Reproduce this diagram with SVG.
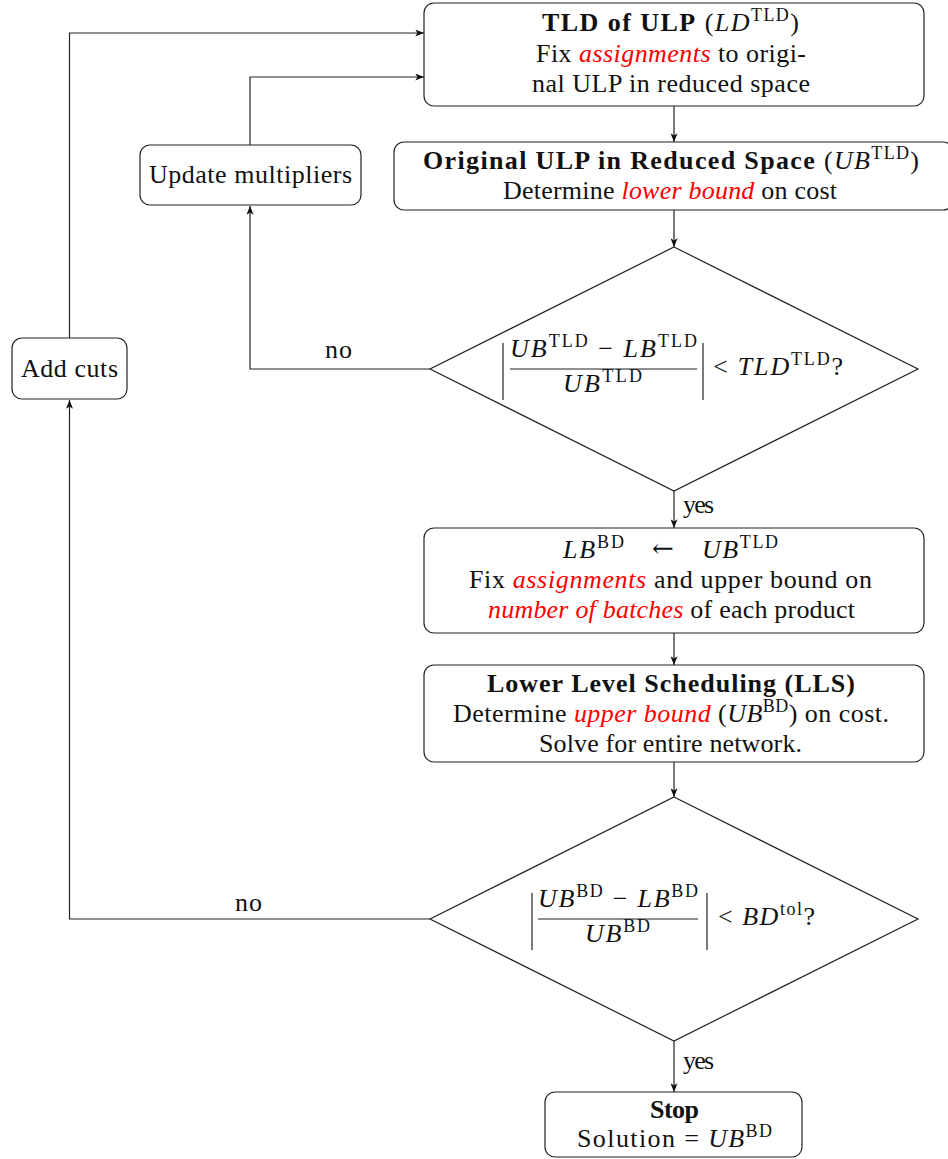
<svg xmlns="http://www.w3.org/2000/svg" width="948" height="1159" viewBox="0 0 948 1159">
  <defs>
    <marker id="arr" viewBox="0 0 10 8" refX="10" refY="4" markerWidth="9" markerHeight="7" markerUnits="userSpaceOnUse" orient="auto">
      <path d="M0,0 L10,4 L0,8 L2.5,4 Z" fill="#111"/>
    </marker>
    <style>
      .box{fill:#fff;stroke:#222;stroke-width:1.2}
      .t{font-family:"Liberation Serif","Times New Roman","DejaVu Serif",serif;font-size:26px;fill:#111}
      .b{font-weight:bold}
      .r{fill:#ff0000;font-style:italic}
      .i{font-style:italic}
      .sup{font-size:18px}
      .sym{font-family:"DejaVu Serif",serif}
      .edge{fill:none;stroke:#222;stroke-width:1.2;marker-end:url(#arr)}
      .rule{stroke:#222;stroke-width:1.2}
    </style>
  </defs>

  <!-- connectors -->
  <g id="connectors">
    <path class="edge" d="M674,106 V142"/>
    <path class="edge" d="M674,210 V247"/>
    <path class="edge" d="M674,491 V528"/>
    <path class="edge" d="M674,633 V665"/>
    <path class="edge" d="M674,762 V797"/>
    <path class="edge" d="M674,1041 V1092"/>
    <path class="edge" d="M430,369 H250 V206"/>
    <path class="edge" d="M430,919 H69.5 V400"/>
    <path class="edge" d="M250,145 V77 H424"/>
    <path class="edge" d="M69.5,338 V33 H424"/>
    <text class="t" x="325" y="358" textLength="27">no</text>
    <text class="t" x="235" y="911" textLength="27">no</text>
    <text class="t" x="683" y="513" textLength="31">yes</text>
    <text class="t" x="683" y="1069" textLength="31">yes</text>
  </g>

  <!-- TLD of ULP -->
  <g id="tld">
    <rect class="box" x="424" y="3" width="500" height="103" rx="10"/>
    <text class="t" x="542" y="31" textLength="257"><tspan class="b">TLD of ULP</tspan> (<tspan class="i">LD</tspan><tspan class="sup" dy="-10">TLD</tspan><tspan dy="10">)</tspan></text>
    <text class="t" x="536" y="62" textLength="270">Fix <tspan class="r">assignments</tspan> to origi-</text>
    <text class="t" x="532" y="92" textLength="278">nal ULP in reduced space</text>
  </g>

  <!-- Original ULP in reduced space -->
  <g id="ulp">
    <rect class="box" x="394" y="142" width="559" height="68" rx="10"/>
    <text class="t" x="423" y="169" textLength="496"><tspan class="b">Original ULP in Reduced Space</tspan> (<tspan class="i">UB</tspan><tspan class="sup" dy="-10">TLD</tspan><tspan dy="10">)</tspan></text>
    <text class="t" x="503" y="199" textLength="334">Determine <tspan class="r">lower bound</tspan> on cost</text>
  </g>

  <!-- Update multipliers -->
  <g id="update">
    <rect class="box" x="140" y="145" width="221" height="60" rx="10"/>
    <text class="t" x="149" y="183" textLength="203">Update multipliers</text>
  </g>

  <!-- Add cuts -->
  <g id="cuts">
    <rect class="box" x="12" y="338" width="115" height="61" rx="10"/>
    <text class="t" x="21" y="377" textLength="97">Add cuts</text>
  </g>

  <!-- TLD convergence test -->
  <g id="test-tld">
    <polygon class="box" points="674,247 918,369 674,491 430,369"/>
    <line class="rule" x1="503" y1="343" x2="503" y2="400"/>
    <line class="rule" x1="703" y1="343" x2="703" y2="400"/>
    <text class="t" x="510" y="357" textLength="187"><tspan class="i">UB</tspan><tspan class="sup" dy="-10">TLD</tspan><tspan dy="10"> − </tspan><tspan class="i">LB</tspan><tspan class="sup" dy="-10">TLD</tspan></text>
    <line class="rule" x1="510" y1="369" x2="697" y2="369"/>
    <text class="t" x="563" y="392" textLength="79"><tspan class="i">UB</tspan><tspan class="sup" dy="-10">TLD</tspan></text>
    <text class="t" x="713" y="375" textLength="130">&lt; <tspan class="i">TLD</tspan><tspan class="sup" dy="-10">TLD</tspan><tspan dy="10">?</tspan></text>
  </g>

  <!-- bound hand-off -->
  <g id="handoff">
    <rect class="box" x="424" y="528" width="500" height="105" rx="10"/>
    <text class="t" x="563" y="558" textLength="61"><tspan class="i">LB</tspan><tspan class="sup" dy="-10">BD</tspan></text>
    <text class="t sym" x="652" y="557" textLength="24">←</text>
    <text class="t" x="702" y="558" textLength="76"><tspan class="i">UB</tspan><tspan class="sup" dy="-10">TLD</tspan></text>
    <text class="t" x="469" y="588" textLength="403">Fix <tspan class="r">assignments</tspan> and upper bound on</text>
    <text class="t" x="488" y="618" textLength="367"><tspan class="r">number of batches</tspan> of each product</text>
  </g>

  <!-- Lower level scheduling -->
  <g id="lls">
    <rect class="box" x="424" y="665" width="500" height="97" rx="10"/>
    <text class="t b" x="487" y="692" textLength="368">Lower Level Scheduling (LLS)</text>
    <text class="t" x="453" y="722" textLength="436">Determine <tspan class="r">upper bound</tspan> (<tspan class="i">UB</tspan><tspan class="sup" dy="-10">BD</tspan><tspan dy="10">) on cost.</tspan></text>
    <text class="t" x="539" y="752" textLength="263">Solve for entire network.</text>
  </g>

  <!-- BD convergence test -->
  <g id="test-bd">
    <polygon class="box" points="674,797 918,919 674,1041 430,919"/>
    <line class="rule" x1="532" y1="893" x2="532" y2="950"/>
    <line class="rule" x1="707" y1="893" x2="707" y2="950"/>
    <text class="t" x="538" y="907" textLength="160"><tspan class="i">UB</tspan><tspan class="sup" dy="-10">BD</tspan><tspan dy="10"> − </tspan><tspan class="i">LB</tspan><tspan class="sup" dy="-10">BD</tspan></text>
    <line class="rule" x1="538" y1="919" x2="698" y2="919"/>
    <text class="t" x="585" y="942" textLength="65"><tspan class="i">UB</tspan><tspan class="sup" dy="-10">BD</tspan></text>
    <text class="t" x="718" y="925" textLength="97">&lt; <tspan class="i">BD</tspan><tspan class="sup" dy="-10">tol</tspan><tspan dy="10">?</tspan></text>
  </g>

  <!-- Stop -->
  <g id="stop">
    <rect class="box" x="545" y="1092" width="257" height="65" rx="10"/>
    <text class="t b" x="650" y="1118" textLength="49">Stop</text>
    <text class="t" x="577" y="1147" textLength="195">Solution = <tspan class="i">UB</tspan><tspan class="sup" dy="-10">BD</tspan></text>
  </g>
</svg>
